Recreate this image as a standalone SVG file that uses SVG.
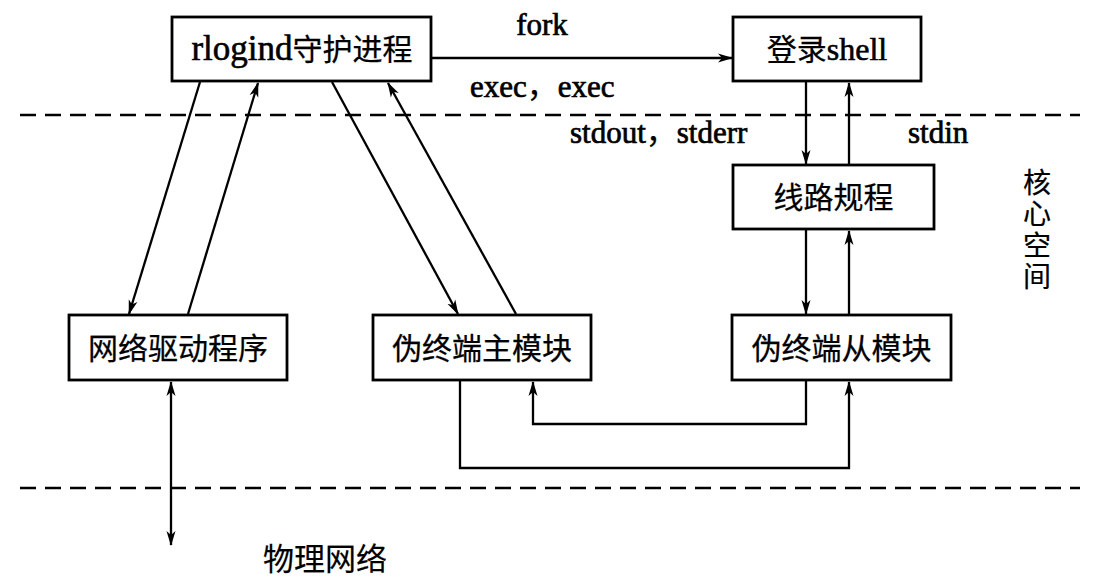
<svg xmlns="http://www.w3.org/2000/svg" width="1097" height="580" viewBox="0 0 1097 580">
<style>
  .box { fill: #fff; stroke: #000; stroke-width: 2.8; }
  .t { font-family: "Liberation Serif", "Noto Sans CJK SC", serif; font-size: 30px; fill: #000; text-anchor: middle; }
  .lat { stroke: #000; stroke-width: 0.6; }
  .cjk { font-family: "Noto Sans CJK SC", sans-serif; stroke: #000; stroke-width: 0.25; }
  .lbl { font-family: "Liberation Serif", "Noto Sans CJK SC", serif; font-size: 31px; fill: #000; stroke: #000; stroke-width: 0.7; }
  .zh { font-family: "Noto Sans CJK SC", sans-serif; fill: #000; stroke: #000; stroke-width: 0.2; }
  .c { fill: none; stroke: #000; stroke-width: 2.3; }
  .dash { fill: none; stroke: #000; stroke-width: 2.4; stroke-dasharray: 16 9; }
</style>
<defs>
  <marker id="ah" markerWidth="15" markerHeight="11" refX="14" refY="5.5" orient="auto" markerUnits="userSpaceOnUse">
    <path d="M0,1 L15,5.5 L0,10 L4,5.5 z" fill="#000"/>
  </marker>
  <marker id="ahs" markerWidth="15" markerHeight="11" refX="1" refY="5.5" orient="auto" markerUnits="userSpaceOnUse">
    <path d="M15,1 L0,5.5 L15,10 L11,5.5 z" fill="#000"/>
  </marker>
</defs>

<g id="boundaries">
  <line class="dash" x1="20" y1="115" x2="1080" y2="115"/>
  <line class="dash" x1="20" y1="488" x2="1080" y2="488"/>
</g>

<g id="connectors">
  <line class="c" x1="431" y1="58" x2="732" y2="58" marker-end="url(#ah)"/>
  <line class="c" x1="200" y1="82" x2="129" y2="314" marker-end="url(#ah)"/>
  <line class="c" x1="188" y1="314" x2="258" y2="83" marker-end="url(#ah)"/>
  <line class="c" x1="332" y1="82" x2="458" y2="314" marker-end="url(#ah)"/>
  <line class="c" x1="516" y1="314" x2="388" y2="83" marker-end="url(#ah)"/>
  <line class="c" x1="806" y1="82" x2="806" y2="164" marker-end="url(#ah)"/>
  <line class="c" x1="849" y1="164" x2="849" y2="83" marker-end="url(#ah)"/>
  <line class="c" x1="806" y1="230" x2="806" y2="314" marker-end="url(#ah)"/>
  <line class="c" x1="849" y1="314" x2="849" y2="231" marker-end="url(#ah)"/>
  <polyline class="c" points="806,381 806,424 533,424 533,382" marker-end="url(#ah)"/>
  <polyline class="c" points="460,381 460,468 849,468 849,382" marker-end="url(#ah)"/>
  <line class="c" x1="171" y1="382" x2="171" y2="545" marker-start="url(#ahs)" marker-end="url(#ah)"/>
</g>

<g id="labels">
  <text class="lbl" x="542" y="35" text-anchor="middle">fork</text>
  <text class="lbl" x="470" y="97">exec<tspan class="cjk">，</tspan>exec</text>
  <text class="lbl" x="570" y="143">stdout<tspan class="cjk">，</tspan>stderr</text>
  <text class="lbl" x="908" y="143">stdin</text>
  <text class="zh" x="1037" y="168" font-size="28" letter-spacing="3.5" style="writing-mode: vertical-rl">核心空间</text>
  <text class="zh" x="325" y="570" font-size="31" text-anchor="middle">物理网络</text>
</g>

<g id="rlogind">
  <rect class="box" x="172" y="17" width="259" height="64"/>
  <text class="t" x="302" y="60"><tspan class="lat" font-size="35">rlogind</tspan><tspan class="cjk">守护进程</tspan></text>
</g>
<g id="login-shell">
  <rect class="box" x="733" y="17" width="188" height="64"/>
  <text class="t" x="827" y="60"><tspan class="cjk">登录</tspan><tspan class="lat" font-size="32">shell</tspan></text>
</g>
<g id="line-discipline">
  <rect class="box" x="733" y="165" width="201" height="64"/>
  <text class="t cjk" x="833.5" y="208">线路规程</text>
</g>
<g id="net-driver">
  <rect class="box" x="69" y="315" width="218" height="65"/>
  <text class="t cjk" x="178" y="359">网络驱动程序</text>
</g>
<g id="pty-master">
  <rect class="box" x="373" y="315" width="218" height="65"/>
  <text class="t cjk" x="482" y="359">伪终端主模块</text>
</g>
<g id="pty-slave">
  <rect class="box" x="732" y="315" width="219" height="65"/>
  <text class="t cjk" x="841.5" y="359">伪终端从模块</text>
</g>
</svg>
